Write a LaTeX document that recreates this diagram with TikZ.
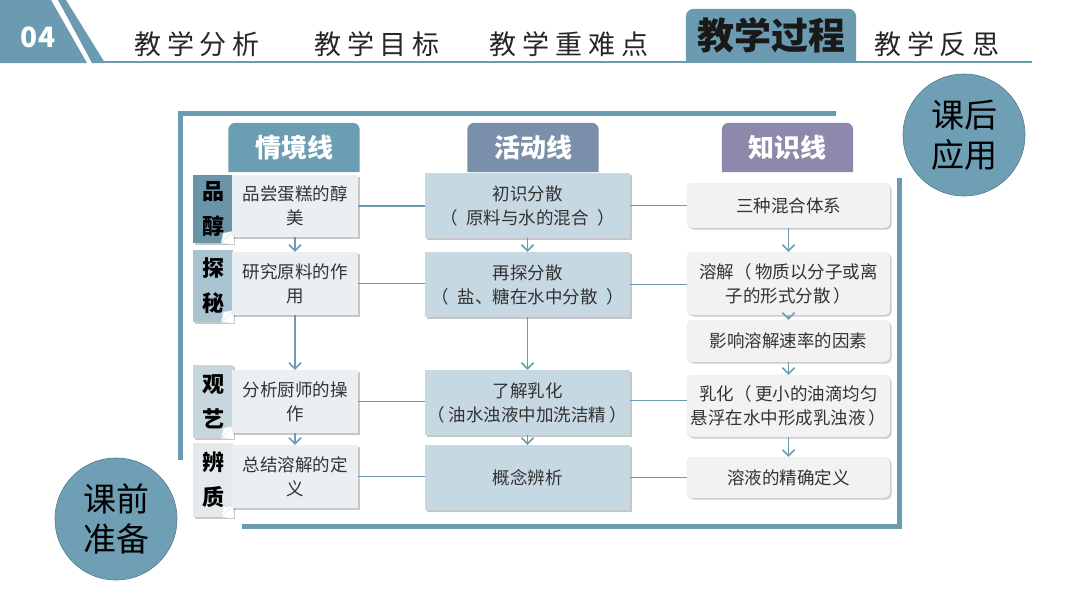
\documentclass[tikz,border=0pt]{standalone}
\usepackage{fontspec}
\setmainfont{Noto Sans CJK SC}
\usetikzlibrary{arrows.meta,shadows}
\pgfdeclarelayer{background}
\pgfsetlayers{background,main}
\definecolor{teal1}{HTML}{6A9BB0}
\definecolor{hdra}{HTML}{6B9DB3}
\definecolor{hdrb}{HTML}{7A8FA9}
\definecolor{hdrc}{HTML}{8D89AC}
\definecolor{lboxc}{HTML}{E9EFF2}
\definecolor{mboxc}{HTML}{C6D8E2}
\definecolor{rboxc}{HTML}{F2F2F2}
\definecolor{taba}{HTML}{6A95A9}
\definecolor{tabb}{HTML}{A8C4D0}
\definecolor{tabc}{HTML}{C8D7DD}
\definecolor{tabd}{HTML}{E4EAEC}
\definecolor{circc}{HTML}{6E9FB4}
\definecolor{txt}{HTML}{333333}
\newcommand{\lpar}{（\hspace{0.2em}}
\newcommand{\rpar}{\hspace{0.2em}）}
\newcommand{\mlpar}{（\hspace{0.5em}}
\newcommand{\mrpar}{\hspace{0.5em}）}
\tikzset{
  conn/.style={draw=teal1, line width=1.5pt},
  arr/.style={conn, -{Straight Barb[length=6pt,width=12pt,line width=1.5pt]}},
  shad/.style={drop shadow={shadow xshift=1.5pt, shadow yshift=-1.5pt, fill=black, opacity=0.22}},
  boxtext/.style={align=center, inner sep=0pt, text=txt, font=\fontsize{17.5}{24}\selectfont},
  lbox/.style={boxtext, shad, fill=lboxc, minimum width=126pt},
  mbox/.style={boxtext, shad, fill=mboxc, minimum width=205pt, minimum height=65pt},
  rbox/.style={boxtext, shad, fill=rboxc, draw=black!10, rounded corners=5pt, minimum width=203pt},
  hdr/.style={inner sep=0pt, minimum width=131pt, minimum height=49pt, text=white, font=\fontsize{26}{26}\selectfont\bfseries},
  tabbox/.style={inner sep=0pt, minimum width=40pt, align=center, text=black, font=\fontsize{22}{35}\selectfont\bfseries},
  fold/.style={fill=white, draw=black!15, line width=0.4pt},
  menu/.style={inner sep=0pt, text=black!85, font=\fontsize{27}{27}\selectfont\addfontfeature{LetterSpace=22}},
  frame/.style={draw=teal1, line width=5pt},
  phase/.style={circle, fill=circc, draw=teal1!80!black, line width=0.6pt, minimum size=122pt, inner sep=0pt, align=center, text=black, font=\fontsize{33}{40}\selectfont}
}
\begin{document}
\begin{tikzpicture}[x=1pt,y=-1pt]
\useasboundingbox (0,0) rectangle (1080,608);
% top header
\fill[teal1] (0,0) -- (51,0) -- (87,63) -- (0,63) -- cycle;
\fill[teal1] (58,0) -- (66,0) -- (105,63) -- (92,63) -- cycle;
\node[inner sep=0pt, text=white, font=\fontsize{28}{28}\selectfont\bfseries] (num) at (38,37) {04};
\draw[teal1, line width=2.5pt] (100,62) -- (1032,62);
\node[menu] (m1t) at (197,44) {教学分析};
\node[menu] (m2t) at (377,44) {教学目标};
\node[menu] (m3t) at (569,44) {教学重难点};
\node[inner sep=0pt, minimum width=170pt, minimum height=53pt, text=black!90, font=\fontsize{37}{37}\selectfont\bfseries] (act) at (771,35.5) {教学过程};
\node[menu] (m5t) at (937,44) {教学反思};
\begin{pgfonlayer}{background}
\fill[teal1] (act.south west) [rounded corners=8pt] -- (act.north west) -- (act.north east) [sharp corners] -- (act.south east) -- cycle;
\end{pgfonlayer}
% frame
\draw[frame] (180,460) -- (180,113) -- (836,113);
\draw[frame] (899,178) -- (899,526) -- (242,526);
% phase circles
\node[phase] (pre) at (116,519) {课前\\准备};
\node[phase] (post) at (964,135) {课后\\应用};
% column headers
\node[hdr] (h1) at (294,147.5) {情境线};
\node[hdr] (h2) at (533,147.5) {活动线};
\node[hdr] (h3) at (787.5,147.5) {知识线};
\begin{pgfonlayer}{background}
\fill[hdra] (h1.south west) [rounded corners=7pt] -- (h1.north west) -- (h1.north east) [sharp corners] -- (h1.south east) -- cycle;
\fill[hdrb] (h2.south west) [rounded corners=7pt] -- (h2.north west) -- (h2.north east) [sharp corners] -- (h2.south east) -- cycle;
\fill[hdrc] (h3.south west) [rounded corners=7pt] -- (h3.north west) -- (h3.north east) [sharp corners] -- (h3.south east) -- cycle;
\end{pgfonlayer}
% side tabs
\node[tabbox, shad, fill=taba, minimum height=68pt] (t1) at (213,209) {品\\醇};
\node[tabbox, shad, fill=tabb, minimum height=72pt] (t2) at (213,286) {探\\秘};
\node[tabbox, shad, fill=tabc, minimum height=73pt] (t3) at (213,401.5) {观\\艺};
\node[tabbox, shad, fill=tabd, minimum height=74pt] (t4) at (213,480) {辨\\质};
\foreach \t in {t1,t2,t3,t4}{
  \fill[white] ([xshift=-12pt]\t.south east) -- ([xshift=1pt,yshift=-1pt]\t.south east) -- ([yshift=12pt]\t.south east) -- cycle;
  \filldraw[fold] ([xshift=-12pt]\t.south east) -- ([yshift=12pt]\t.south east) -- ([xshift=-10pt,yshift=10pt]\t.south east) -- cycle;
}
% left column
\node[lbox, minimum height=62pt] (l1) at (295,206) {品尝蛋糕的醇\\美};
\node[lbox, minimum height=63pt] (l2) at (295,283.5) {研究原料的作\\用};
\node[lbox, minimum height=63pt] (l3) at (295,401.5) {分析厨师的操\\作};
\node[lbox, minimum height=63pt] (l4) at (295,476.5) {总结溶解的定\\义};
% middle column
\node[mbox] (a1) at (527.5,205.5) {初识分散\\\mlpar 原料与水的混合\mrpar};
\node[mbox] (a2) at (527.5,284.5) {再探分散\\\mlpar 盐、糖在水中分散\mrpar};
\node[mbox] (a3) at (527.5,402.5) {了解乳化\\\lpar 油水浊液中加洗洁精\rpar};
\node[mbox] (a4) at (527.5,477.5) {概念辨析};
% right column
\node[rbox, minimum height=45pt] (k1) at (788.5,205.5) {三种混合体系};
\node[rbox, minimum height=63pt] (k2) at (788.5,283.5) {溶解\lpar 物质以分子或离\\子的形式分散\rpar};
\node[rbox, minimum height=42pt] (k3) at (788.5,341) {影响溶解速率的因素};
\node[rbox, minimum height=62pt] (k4) at (788.5,406) {乳化\lpar 更小的油滴均匀\\悬浮在水中形成乳浊液\rpar};
\node[rbox, minimum height=41pt] (k5) at (788.5,477.5) {溶液的精确定义};
% horizontal connectors
\draw[conn] (l1.east) -- (l1.east -| a1.west);
\draw[conn] (l2.east) -- (l2.east -| a2.west);
\draw[conn] (l3.east) -- (l3.east -| a3.west);
\draw[conn] (l4.east) -- (l4.east -| a4.west);
\draw[conn] (a1.east) -- (a1.east -| k1.west);
\draw[conn] (a2.east) -- (a2.east -| k2.west);
\draw[conn] ([yshift=2pt]a3.east) -- ([yshift=2pt]a3.east -| k4.west);
\draw[conn] (a4.east) -- (a4.east -| k5.west);
% vertical arrows
\draw[arr] (l1.south) -- (l2.north);
\draw[arr] (l2.south) -- (l3.north);
\draw[arr] (l3.south) -- (l4.north);
\draw[arr] (a1.south) -- (a2.north);
\draw[arr] (a2.south) -- (a3.north);
\draw[arr] (a3.south) -- (a4.north);
\draw[arr] (k1.south) -- (k2.north);
\draw[arr] (k2.south) -- (k3.north);
\draw[arr] (k3.south) -- (k4.north);
\draw[arr] (k4.south) -- (k5.north);
\end{tikzpicture}
\end{document}
